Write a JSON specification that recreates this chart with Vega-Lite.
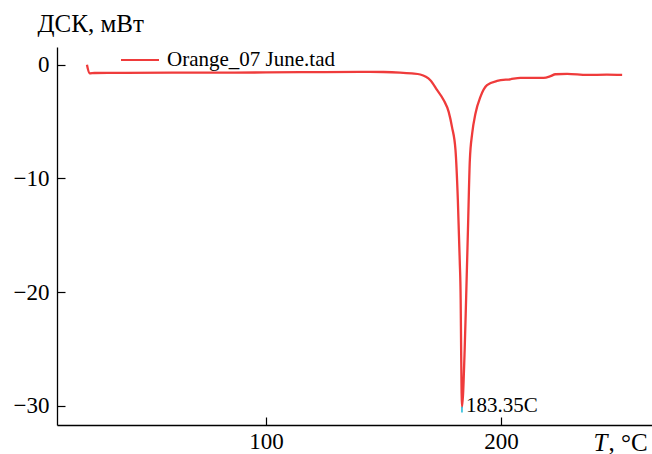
{
  "$schema": "https://vega.github.io/schema/vega-lite/v6.json",
  "width": 595,
  "height": 378,
  "autosize": {"type": "none"},
  "padding": {"left": 57, "top": 47, "right": 0, "bottom": 29},
  "background": "white",
  "config": {
    "view": {"stroke": null},
    "font": "Liberation Serif",
    "axis": {
      "labelFont": "Liberation Serif",
      "titleFont": "Liberation Serif",
      "labelColor": "black",
      "titleColor": "black",
      "domainColor": "black",
      "tickColor": "black",
      "domainWidth": 1.3,
      "tickWidth": 1.2,
      "labelFontSize": 23,
      "titleFontSize": 25,
      "titleFontWeight": "normal",
      "grid": false
    },
    "legend": {"labelFont": "Liberation Serif"}
  },
  "datasets": {
    "curve": [
      {"T": 23.8, "V": 0.0, "series": "Orange_07 June.tad"},
      {"T": 24.9, "V": -0.75, "series": "Orange_07 June.tad"},
      {"T": 27, "V": -0.72, "series": "Orange_07 June.tad"},
      {"T": 40, "V": -0.70, "series": "Orange_07 June.tad"},
      {"T": 60, "V": -0.69, "series": "Orange_07 June.tad"},
      {"T": 80, "V": -0.68, "series": "Orange_07 June.tad"},
      {"T": 100, "V": -0.67, "series": "Orange_07 June.tad"},
      {"T": 120, "V": -0.64, "series": "Orange_07 June.tad"},
      {"T": 140, "V": -0.62, "series": "Orange_07 June.tad"},
      {"T": 150, "V": -0.63, "series": "Orange_07 June.tad"},
      {"T": 157, "V": -0.68, "series": "Orange_07 June.tad"},
      {"T": 162, "V": -0.76, "series": "Orange_07 June.tad"},
      {"T": 165.6, "V": -0.85, "series": "Orange_07 June.tad"},
      {"T": 168, "V": -1.05, "series": "Orange_07 June.tad"},
      {"T": 169.9, "V": -1.35, "series": "Orange_07 June.tad"},
      {"T": 172.8, "V": -2.23, "series": "Orange_07 June.tad"},
      {"T": 175.6, "V": -3.11, "series": "Orange_07 June.tad"},
      {"T": 177.7, "V": -4.14, "series": "Orange_07 June.tad"},
      {"T": 179.1, "V": -5.46, "series": "Orange_07 June.tad"},
      {"T": 180.6, "V": -7.51, "series": "Orange_07 June.tad"},
      {"T": 181.6, "V": -11.9, "series": "Orange_07 June.tad"},
      {"T": 182.4, "V": -17.2, "series": "Orange_07 June.tad"},
      {"T": 182.8, "V": -20.7, "series": "Orange_07 June.tad"},
      {"T": 183.0, "V": -25.1, "series": "Orange_07 June.tad"},
      {"T": 183.35, "V": -30.1, "series": "Orange_07 June.tad"},
      {"T": 184.5, "V": -25.1, "series": "Orange_07 June.tad"},
      {"T": 185.1, "V": -20.7, "series": "Orange_07 June.tad"},
      {"T": 185.9, "V": -14.5, "series": "Orange_07 June.tad"},
      {"T": 186.7, "V": -8.4, "series": "Orange_07 June.tad"},
      {"T": 187.7, "V": -6.04, "series": "Orange_07 June.tad"},
      {"T": 189.1, "V": -4.28, "series": "Orange_07 June.tad"},
      {"T": 191.2, "V": -2.82, "series": "Orange_07 June.tad"},
      {"T": 194.0, "V": -1.79, "series": "Orange_07 June.tad"},
      {"T": 198.3, "V": -1.42, "series": "Orange_07 June.tad"},
      {"T": 203.9, "V": -1.27, "series": "Orange_07 June.tad"},
      {"T": 208.2, "V": -1.15, "series": "Orange_07 June.tad"},
      {"T": 213, "V": -1.15, "series": "Orange_07 June.tad"},
      {"T": 218.1, "V": -1.15, "series": "Orange_07 June.tad"},
      {"T": 221.0, "V": -1.0, "series": "Orange_07 June.tad"},
      {"T": 223.1, "V": -0.83, "series": "Orange_07 June.tad"},
      {"T": 228.1, "V": -0.80, "series": "Orange_07 June.tad"},
      {"T": 236.6, "V": -0.89, "series": "Orange_07 June.tad"},
      {"T": 245, "V": -0.87, "series": "Orange_07 June.tad"},
      {"T": 251.5, "V": -0.89, "series": "Orange_07 June.tad"}
    ],
    "peak": [
      {"T": 183.35, "V": -30.1, "V2": -30.6, "label": "183.35C"}
    ]
  },
  "resolve": {"axis": {"x": "independent"}},
  "layer": [
    {
      "data": {"name": "curve"},
      "mark": {"type": "line", "strokeWidth": 2.3, "interpolate": "monotone"},
      "encoding": {
        "x": {
          "field": "T", "type": "quantitative",
          "scale": {"domain": [11.06, 264.2], "nice": false, "zero": false},
          "axis": {
            "orient": "bottom",
            "values": [100, 200],
            "tickSize": -8,
            "labelPadding": 13,
            "title": ", °C",
            "titleAlign": "left",
            "titleAnchor": "start",
            "titleBaseline": "alphabetic",
            "titleX": 551,
            "titleY": 25
          }
        },
        "y": {
          "field": "V", "type": "quantitative",
          "scale": {"domain": [-31.7, 1.57], "nice": false, "zero": false},
          "axis": {
            "values": [0, -10, -20, -30],
            "tickSize": -8,
            "labelPadding": 16,
            "title": "ДСК, мВт",
            "titleAngle": 0,
            "titleAlign": "left",
            "titleAnchor": "start",
            "titleBaseline": "alphabetic",
            "titleX": -20,
            "titleY": -16
          }
        },
        "color": {
          "field": "series", "type": "nominal",
          "scale": {"range": ["#ef3b3b"]},
          "legend": {
            "orient": "none",
            "legendX": 63,
            "legendY": -7,
            "title": null,
            "padding": 0,
            "symbolType": "stroke",
            "symbolSize": 1444,
            "symbolStrokeWidth": 2,
            "labelFontSize": 21,
            "labelLimit": 400,
            "labelColor": "black",
            "labelOffset": 7
          }
        }
      }
    },
    {
      "data": {"name": "peak"},
      "mark": {"type": "rule", "color": "#19b8d8", "strokeWidth": 1.5},
      "encoding": {
        "x": {"field": "T", "type": "quantitative", "axis": null},
        "y": {"field": "V", "type": "quantitative"},
        "y2": {"field": "V2"}
      }
    },
    {
      "data": {"name": "peak"},
      "mark": {"type": "text", "align": "left", "baseline": "middle", "dx": 4, "dy": -1, "fontSize": 21, "font": "Liberation Serif", "color": "black"},
      "encoding": {
        "x": {
          "field": "T", "type": "quantitative",
          "axis": {
            "orient": "bottom",
            "labels": false,
            "ticks": false,
            "domain": false,
            "title": "T",
            "titleFontStyle": "italic",
            "titleAlign": "left",
            "titleAnchor": "start",
            "titleBaseline": "alphabetic",
            "titleX": 536,
            "titleY": 25
          }
        },
        "y": {"field": "V", "type": "quantitative"},
        "text": {"field": "label"}
      }
    }
  ]
}
